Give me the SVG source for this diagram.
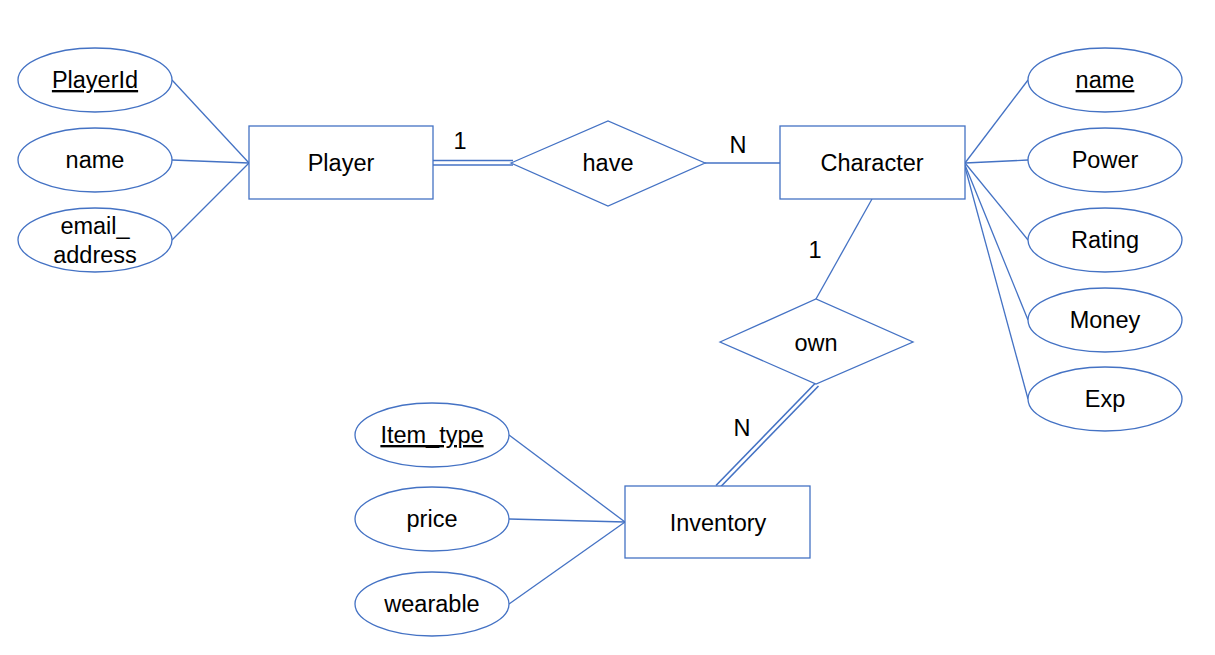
<svg xmlns="http://www.w3.org/2000/svg" width="1215" height="655" viewBox="0 0 1215 655">
<style>
.s{fill:#fff;stroke:#4472C4;stroke-width:1.3}
.c line{stroke:#4472C4;stroke-width:1.3}
.c line.d{stroke-width:1.6}
text{font-family:"Liberation Sans",Arial,sans-serif;font-size:23.5px;fill:#000;text-anchor:middle}
.u{text-decoration:underline}
</style>
<rect width="1215" height="655" fill="#fff"/>
<g class="c" id="connectors">
<line x1="172" y1="80" x2="249" y2="163"/>
<line x1="172" y1="160" x2="249" y2="163"/>
<line x1="172" y1="240" x2="249" y2="163"/>
<line class="d" x1="431" y1="160.5" x2="513" y2="160.5"/>
<line class="d" x1="431" y1="165" x2="513" y2="165"/>
<line x1="705" y1="163" x2="780" y2="163"/>
<line x1="965" y1="163" x2="1028" y2="80"/>
<line x1="965" y1="163" x2="1028" y2="160"/>
<line x1="965" y1="163" x2="1028" y2="240"/>
<line x1="965" y1="165" x2="1028" y2="320"/>
<line x1="965" y1="167" x2="1028" y2="399"/>
<line x1="872" y1="199" x2="816" y2="299"/>
<line class="d" x1="818.5" y1="386" x2="719" y2="488.5"/>
<line class="d" x1="815.5" y1="383" x2="716" y2="485.5"/>
<line x1="625" y1="522" x2="509" y2="435"/>
<line x1="625" y1="522" x2="509" y2="519"/>
<line x1="625" y1="522" x2="509" y2="604"/>
<text x="460" y="149">1</text>
<text x="738" y="153">N</text>
<text x="815" y="258">1</text>
<text x="742" y="436">N</text>
</g>
<g id="Player"><rect class="s" x="249" y="126" width="184" height="73"/><text x="341" y="171">Player</text></g>
<g id="have"><polygon class="s" points="511,163 608,121 705,163 608,206"/><text x="608" y="171">have</text></g>
<g id="Character"><rect class="s" x="780" y="126" width="185" height="73"/><text x="872" y="171">Character</text></g>
<g id="own"><polygon class="s" points="720,342 816,299 913,342 816,384"/><text x="816" y="351">own</text></g>
<g id="Inventory"><rect class="s" x="625" y="486" width="185" height="72"/><text x="718" y="531">Inventory</text></g>
<g id="PlayerId"><ellipse class="s" cx="95" cy="80" rx="77" ry="32"/><text class="u" x="95" y="88">PlayerId</text></g>
<g id="pname"><ellipse class="s" cx="95" cy="160" rx="77" ry="32"/><text x="95" y="168">name</text></g>
<g id="email"><ellipse class="s" cx="95" cy="240" rx="77" ry="32"/><text x="95" y="234">email_</text><text x="95" y="263">address</text></g>
<g id="cname"><ellipse class="s" cx="1105" cy="80" rx="77" ry="32"/><text class="u" x="1105" y="88">name</text></g>
<g id="Power"><ellipse class="s" cx="1105" cy="160" rx="77" ry="32"/><text x="1105" y="168">Power</text></g>
<g id="Rating"><ellipse class="s" cx="1105" cy="240" rx="77" ry="32"/><text x="1105" y="248">Rating</text></g>
<g id="Money"><ellipse class="s" cx="1105" cy="320" rx="77" ry="32"/><text x="1105" y="328">Money</text></g>
<g id="Exp"><ellipse class="s" cx="1105" cy="399" rx="77" ry="32"/><text x="1105" y="407">Exp</text></g>
<g id="Item_type"><ellipse class="s" cx="432" cy="435" rx="77" ry="32"/><text class="u" x="432" y="443">Item_type</text></g>
<g id="price"><ellipse class="s" cx="432" cy="519" rx="77" ry="32"/><text x="432" y="527">price</text></g>
<g id="wearable"><ellipse class="s" cx="432" cy="604" rx="77" ry="32"/><text x="432" y="612">wearable</text></g>
</svg>
